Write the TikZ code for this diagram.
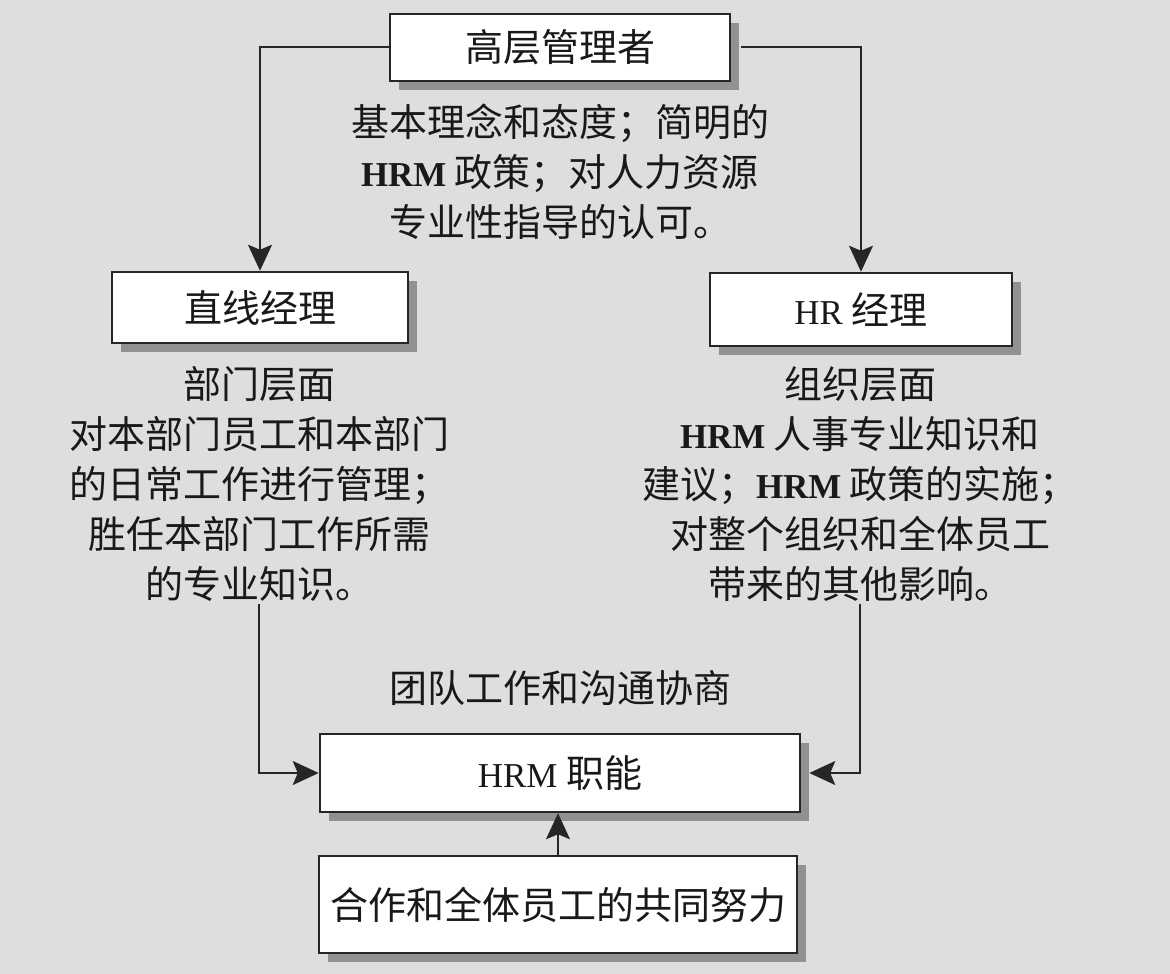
\documentclass[tikz,border=0pt]{standalone}
\usepackage{fontspec}
\setmainfont{Noto Sans CJK SC}
\newfontfamily\latinfont[Scale=0.92]{Liberation Serif}
\usepackage{tikz}
\usetikzlibrary{arrows.meta,positioning,shadows,calc}
\usepackage{xcolor}
\definecolor{bggray}{RGB}{222,222,222}
\definecolor{shadowgray}{RGB}{145,145,145}
\newcommand{\en}[1]{{\latinfont #1}}
\newcommand{\enb}[1]{{\latinfont\bfseries #1}}

\begin{document}
\begin{tikzpicture}[
            x=1pt, y=-1pt,
            every node/.style={font=\fontsize{38}{50}\selectfont, text=black!90},
            box/.style={rectangle, draw=black!85, line width=2.5pt, fill=white, inner sep=0pt,
                general shadow={shadow xshift=9pt, shadow yshift=-9pt, fill=shadowgray}},
            note/.style={align=center, inner sep=2pt},
            arrow/.style={-{Stealth[length=26pt, width=24pt, inset=5pt]}, line width=2pt, draw=black!85}
        ]
            \fill[bggray] (0,0) rectangle (1170,974);
            \useasboundingbox (0,0) rectangle (1170,974);

            \node[box, minimum width=340pt, minimum height=67pt] (top) at (560,47.5) {高层管理者};
            \node[note] (policy) at (560,172) {基本理念和态度；简明的\\\enb{HRM} 政策；对人力资源\\专业性指导的认可。};
            \node[box, minimum width=296pt, minimum height=71pt] (line) at (260,307.5) {直线经理};
            \node[box, minimum width=302pt, minimum height=73pt] (hr) at (861,309.5) {\en{HR} 经理};
            \node[note] (linetext) at (259,484) {部门层面\\对本部门员工和本部门\\的日常工作进行管理；\\胜任本部门工作所需\\的专业知识。};
            \node[note] (hrtext) at (860,484) {组织层面\\\enb{HRM} 人事专业知识和\\建议；\enb{HRM} 政策的实施；\\对整个组织和全体员工\\带来的其他影响。};
            \node[note] (team) at (560,688) {团队工作和沟通协商};
            \node[box, minimum width=480pt, minimum height=78pt] (hrm) at (560,773) {\en{HRM} 职能};
            \node[box, minimum width=478pt, minimum height=97pt] (effort) at (558,904.5) {合作和全体员工的共同努力};

            \draw[arrow] (top.west) -| (line.north);
            \draw[arrow] ([xshift=10pt]top.east) -| (hr.north);
            \draw[arrow] (linetext.south) |- (hrm.west);
            \draw[arrow] (hrtext.south) |- ([xshift=8pt]hrm.east);
            \draw[arrow] (effort.north) -- (effort.north |- hrm.south);
        \end{tikzpicture}
\end{document}
